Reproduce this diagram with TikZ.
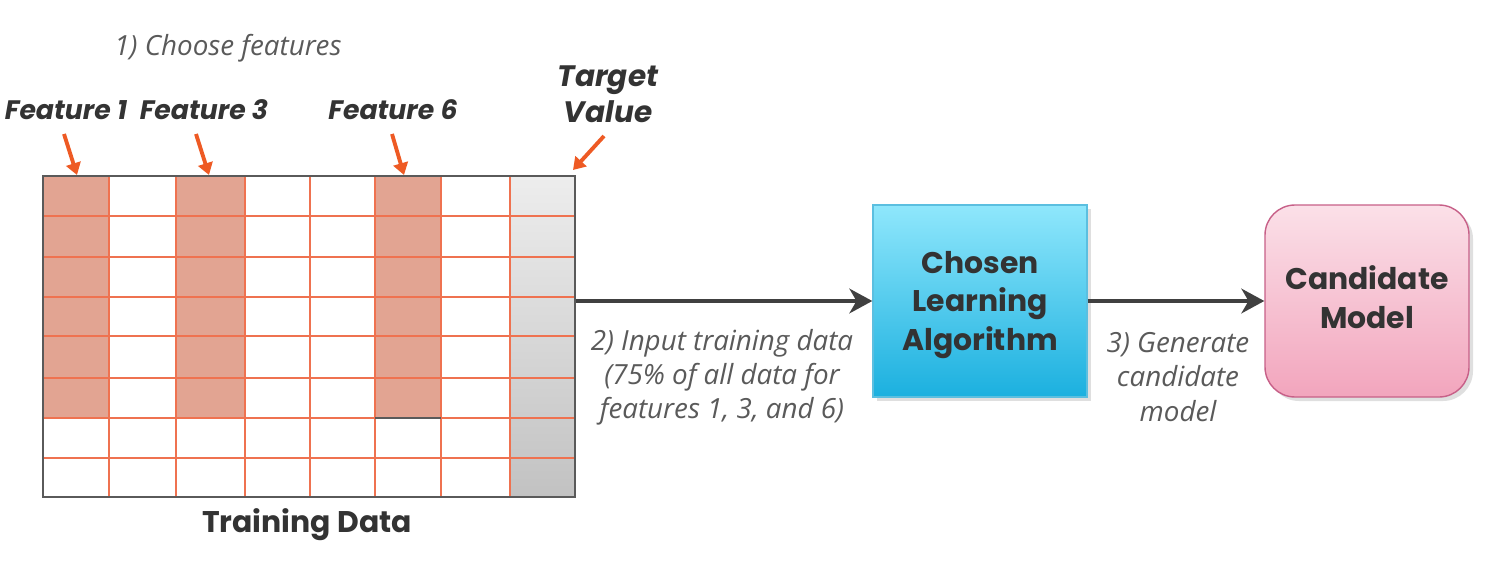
\documentclass[tikz,border=0pt]{standalone}
\usepackage{fontspec}
\setmainfont{Poppins}
\newfontfamily\notefont{Open Sans}
\usetikzlibrary{arrows.meta,shadows}

\definecolor{gridred}{HTML}{EF7250}
\definecolor{pickarrow}{HTML}{EE5A24}
\definecolor{hlfill}{HTML}{E2A492}
\definecolor{tgtop}{HTML}{EDEDED}
\definecolor{tgbot}{HTML}{C2C2C2}
\definecolor{tborder}{HTML}{5A5A5A}
\definecolor{darkline}{HTML}{404040}
\definecolor{boldtext}{HTML}{333333}
\definecolor{notetext}{HTML}{5A5A5A}
\definecolor{cyantop}{HTML}{8FE7FC}
\definecolor{cyanbot}{HTML}{1BB0DF}
\definecolor{cyanedge}{HTML}{5BBFE0}
\definecolor{pinktop}{HTML}{FBE0E8}
\definecolor{pinkbot}{HTML}{F2A5BD}
\definecolor{pinkedge}{HTML}{C76088}

\tikzset{
  boldlabel/.style={text=boldtext, font=\bfseries\fontsize{8.5}{10.9}\selectfont, align=center},
  featlabel/.style={text=boldtext, font=\bfseries\itshape\fontsize{7.6}{10}\selectfont, align=center},
  note/.style={text=notetext, font=\notefont\itshape\fontsize{7.9}{9.7}\selectfont, align=center},
  pick/.style={draw=pickarrow, line width=1.1pt, -{Triangle[length=3.4pt,width=4.2pt]}},
  flow/.style={draw=darkline, line width=1.1pt, -{Stealth[length=6.5pt,width=7pt,inset=2pt]}},
  gridline/.style={draw=gridred, line width=0.4pt},
  boxshadow/.style={drop shadow={opacity=0.25, shadow xshift=0.4mm, shadow yshift=-0.4mm}},
}

\begin{document}
\begin{tikzpicture}[x=0.1mm, y=-0.1mm]
\useasboundingbox (0,0) rectangle (1494,574);
\fill[white] (0,0) rectangle (1494,574);

% selected feature columns
\fill[hlfill] (43,176) rectangle (109,418);
\fill[hlfill] (176,176) rectangle (245,418);
\fill[hlfill] (375,176) rectangle (441,418);
% target value column
\shade[top color=tgtop, bottom color=tgbot] (510,176) rectangle (575,497);

% cell grid
\foreach \gx in {109,176,245,310,375,441,510}
  \draw[gridline] (\gx,176) -- (\gx,497);
\foreach \gy in {216,257,297,336,378,418,458}
  \draw[gridline] (43,\gy) -- (575,\gy);
\draw[draw=tborder, line width=0.4pt] (375,418) -- (441,418);

% table outline
\node[draw=tborder, line width=0.45pt, minimum width=53.2mm, minimum height=32.1mm,
      inner sep=0pt] (table) at (309,336.5) {};
\node[boldlabel] (tdata) at (307,525) {Training Data};

% column labels and pointers
\node[note] (choose) at (228,48) {1) Choose features};
\node[featlabel] (f1) at (66,110) {Feature 1};
\node[featlabel] (f3) at (204,110) {Feature 3};
\node[featlabel] (f6) at (393,110) {Feature 6};
\node[featlabel, font=\bfseries\itshape\fontsize{8.4}{10.3}\selectfont] (tv) at (608,94) {Target\\Value};

\coordinate (f1tail) at (64,134);
\coordinate (f1tip) at (77,175);
\coordinate (f3tail) at (196,134);
\coordinate (f3tip) at (209,175);
\coordinate (f6tail) at (392,134);
\coordinate (f6tip) at (404,175);
\coordinate (tvtail) at (604,136);
\coordinate (tvtip) at (573,170);
\draw[pick] (f1tail) -- (f1tip);
\draw[pick] (f3tail) -- (f3tip);
\draw[pick] (f6tail) -- (f6tip);
\draw[pick] (tvtail) -- (tvtip);

% learning algorithm and result
\node[boxshadow, top color=cyantop, bottom color=cyanbot, draw=cyanedge,
      line width=0.4pt, minimum width=21.4mm, minimum height=19.2mm] (algo) at (980,301) {};
\node[boldlabel] (algotext) at (980,305) {Chosen\\Learning\\Algorithm};
\node[boxshadow, top color=pinktop, bottom color=pinkbot, draw=pinkedge,
      line width=0.4pt, rounded corners=3mm, minimum width=20.4mm, minimum height=19.2mm]
      (cand) at (1367,301) {};
\node[boldlabel] (candtext) at (1367,297) {Candidate\\Model};

\draw[flow] (table.east |- algo.west) -- (algo.west);
\draw[flow] (algo.east) -- (cand.west);

\node[note] (step2) at (722,377) {2) Input training data\\(75\% of all data for\\features 1, 3, and 6)};
\node[note] (step3) at (1178,377) {3) Generate\\candidate\\model};
\end{tikzpicture}
\end{document}
